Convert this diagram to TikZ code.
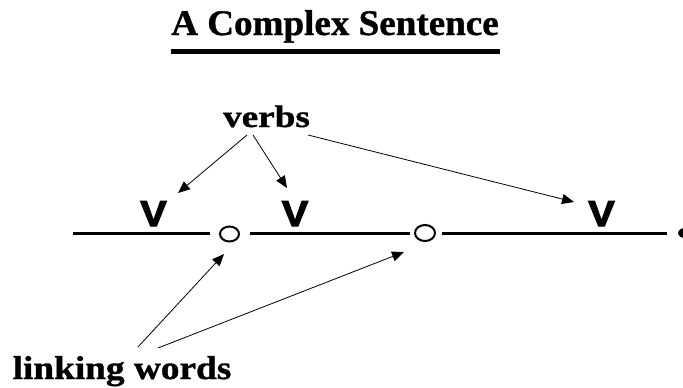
\documentclass[tikz,border=0pt]{standalone}
\usepackage{fontspec}
\usepackage{graphicx}
\setmainfont{Liberation Serif}[BoldFeatures={FakeBold=1}]
\newfontfamily\vfont{Liberation Sans}[BoldFeatures={FakeBold=3}]
\usetikzlibrary{arrows.meta}
\tikzset{
  lbl/.style={inner sep=0pt, anchor=base, font=\bfseries},
  vlbl/.style={inner sep=0pt, anchor=base, font=\vfont\bfseries\fontsize{36}{40}\selectfont},
  ptr/.style={line width=0.8pt, -{Triangle[length=12pt,width=10pt]}},
  seg/.style={line width=3pt},
  joint/.style={line width=2pt}
}
\begin{document}
\begin{tikzpicture}[x=1pt,y=-1pt]
\useasboundingbox (0,0) rectangle (683,388);
% title
\node[lbl, font=\bfseries\fontsize{36}{40}\selectfont] (title) at (335,35) {\scalebox{1.03}[1]{A Complex Sentence}};
\draw[line width=4.5pt] (171,51.5) -- (500,51.5);
% labels
\node[lbl, font=\bfseries\fontsize{31}{34}\selectfont] (verbs) at (266.5,127) {\scalebox{1.2}[1]{verbs}};
\node[lbl, font=\bfseries\fontsize{33}{36}\selectfont] (linking) at (122,379) {\scalebox{1.13}[1]{linking words}};
% V letters
\node[vlbl] (v1) at (153.5,226) {\scalebox{1.1}[1]{V}};
\node[vlbl] (v2) at (295,226) {\scalebox{1.1}[1]{V}};
\node[vlbl] (v3) at (601.5,226) {\scalebox{1.1}[1]{V}};
% sentence line
\draw[joint] (229.5,234) ellipse [x radius=9.5pt, y radius=7.5pt];
\node[inner sep=0pt, minimum width=21pt, minimum height=17pt] (c1) at (229.5,234) {};
\draw[joint] (425,233) ellipse [x radius=10pt, y radius=8pt];
\node[inner sep=0pt, minimum width=22pt, minimum height=18pt] (c2) at (425,233) {};
\fill (687,233) ellipse [x radius=9pt, y radius=5.5pt];
\node[inner sep=0pt, minimum width=18pt, minimum height=11pt] (c3) at (687,233) {};
\coordinate (l0) at (73,233);
\coordinate (l1) at (210,233);
\coordinate (l2) at (250,233);
\coordinate (l3) at (410,233);
\coordinate (l4) at (442,233);
\coordinate (l5) at (667,233);
\draw[seg] (l0) -- (l1);
\draw[seg] (l2) -- (l3);
\draw[seg] (l4) -- (l5);
% arrows from verbs
\coordinate (vs1) at (247,135);
\coordinate (vs2) at (253,135);
\coordinate (vs3) at (308,135);
\coordinate (vt1) at (178,193);
\coordinate (vt2) at (287,188);
\coordinate (vt3) at (574,202);
\draw[ptr] (vs1) -- (vt1);
\draw[ptr] (vs2) -- (vt2);
\draw[ptr] (vs3) -- (vt3);
% arrows from linking words
\coordinate (ls1) at (138,347);
\coordinate (ls2) at (158,348);
\coordinate (lt1) at (224,254);
\coordinate (lt2) at (404,252);
\draw[ptr] (ls1) -- (lt1);
\draw[ptr] (ls2) -- (lt2);
\end{tikzpicture}
\end{document}
